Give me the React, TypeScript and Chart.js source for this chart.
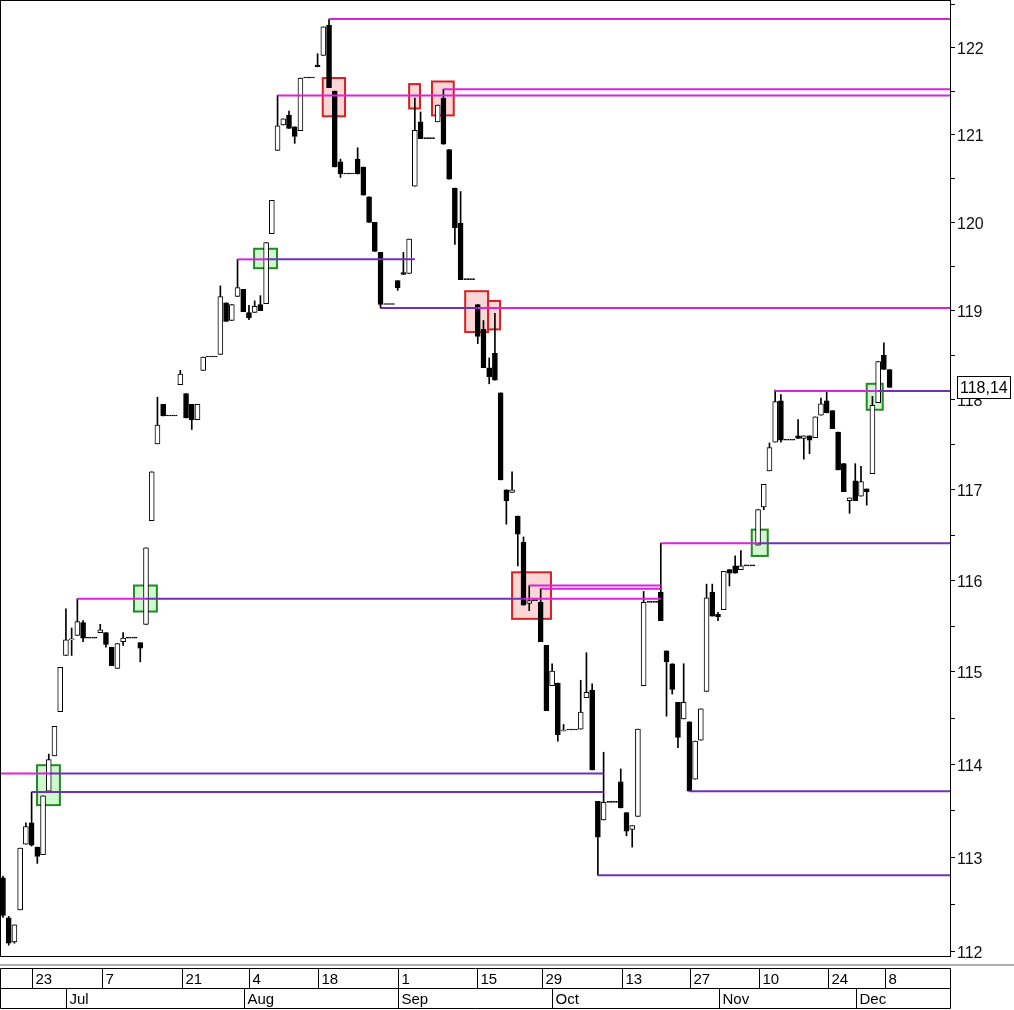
import React, { useEffect, useRef } from 'react';
import { Chart, registerables } from 'chart.js';

Chart.register(...registerables);

// ---- Daily sessions (one slot per session) ----
const OPEN = [
  112.78, 112.355, 112.10, 112.44, 113.14, 113.37, 113.11, 113.03, 113.71, 114.09,
  114.57, 115.18, 115.35, 115.40, 115.54, 115.37, 115.37, 115.43, 115.43, 115.27,
  115.04, 115.33, 115.37, 115.37, 115.32, 115.52, 116.66, 117.51, 117.95, 117.82,
  117.82, 118.17, 118.07, 117.95, 117.78, 118.33, 118.48, 118.48, 118.51, 119.09,
  118.89, 119.16, 119.24, 118.98, 118.98, 119.07, 119.08, 119.87, 120.82, 121.11,
  121.225, 121.09, 121.045, 121.65, 121.65, 121.80, 121.91, 122.26, 121.50, 120.69,
  120.55, 120.55, 120.72, 120.63, 120.29, 120.00, 119.66, 119.07, 119.07, 119.34,
  119.43, 119.42, 120.41, 121.146, 120.955, 120.955, 121.146, 121.42, 120.83, 120.39,
  119.99, 119.35, 119.35, 119.07, 118.79, 118.36, 118.52, 118.08, 117.00, 116.97,
  116.71, 116.42, 115.75, 115.78, 115.76, 115.29, 114.85, 114.88, 114.36, 114.37,
  114.37, 114.38, 114.72, 114.80, 113.60, 113.40, 113.59, 113.59, 113.81, 113.48,
  113.30, 113.44, 114.85, 115.76, 115.76, 115.87, 115.23, 115.09, 114.67, 114.49,
  114.46, 113.84, 114.26, 114.79, 115.87, 115.63, 115.68, 116.12, 116.16, 116.12,
  116.16, 116.16, 116.39, 116.81, 117.21, 117.53, 117.99, 117.55, 117.55, 117.60,
  117.57, 117.60, 117.58, 117.83, 117.99, 117.88, 117.64, 117.29, 116.88, 117.10,
  116.93, 117.01, 117.18, 117.97, 118.50, 118.34,
];
const CLOSE = [
  112.38, 112.086, 112.28, 113.10, 113.33, 113.13, 113.01, 113.66, 114.05, 114.41,
  115.05, 115.35, 115.36, 115.55, 115.37, 115.37, 115.37, 115.46, 115.30, 115.07,
  115.31, 115.37, 115.37, 115.37, 115.26, 116.36, 117.20, 117.72, 117.82, 117.82,
  117.82, 118.29, 117.80, 117.78, 117.95, 118.48, 118.48, 118.48, 119.16, 118.88,
  119.07, 119.26, 118.99, 118.92, 119.05, 119.00, 119.77, 120.25, 121.10, 121.18,
  121.07, 120.98, 121.65, 121.65, 121.65, 121.78, 122.24, 121.54, 120.63, 120.55,
  120.55, 120.55, 120.55, 120.31, 120.00, 119.67, 119.07, 119.07, 119.07, 119.26,
  119.41, 119.81, 121.05, 120.955, 120.955, 120.955, 121.34, 120.89, 120.49, 119.94,
  119.35, 119.35, 119.35, 118.71, 118.36, 118.26, 118.22, 117.11, 116.88, 117.00,
  116.51, 115.73, 115.78, 115.78, 115.33, 114.58, 115.01, 114.32, 114.37, 114.37,
  114.37, 114.565, 114.78, 113.94, 113.215, 113.59, 113.59, 113.59, 113.53, 113.28,
  113.34, 114.38, 115.76, 115.76, 115.76, 115.56, 115.11, 114.81, 114.29, 114.67,
  113.71, 114.25, 114.60, 115.81, 115.61, 115.60, 116.10, 116.08, 116.08, 116.16,
  116.16, 116.16, 116.78, 117.06, 117.47, 117.98, 117.55, 117.55, 117.55, 117.57,
  117.60, 117.55, 117.81, 117.955, 117.855, 117.68, 117.22, 116.98, 116.91, 116.88,
  117.09, 116.98, 117.94, 118.43, 118.34, 118.14,
];
// null = no wick beyond the body
const HIGH = [
  112.80, 112.37, null, null, 113.37, 113.70, null, null, 114.11, null,
  null, 115.69, 115.48, 115.80, 115.56, null, null, 115.52, null, null,
  null, 115.43, null, null, null, null, null, 118.03, null, null,
  null, 118.33, null, null, null, null, null, null, 119.28, null,
  null, 119.58, null, 119.06, 119.11, 119.17, null, null, 121.45, null,
  121.27, null, null, null, null, 121.93, null, 122.33, null, 120.72,
  null, null, 120.85, null, null, null, null, null, null, null,
  119.66, null, 121.42, 121.26, null, null, null, 121.52, null, null,
  120.35, null, null, null, 118.89, 118.47, 118.97, null, null, 117.20,
  null, 116.48, 115.945, null, 115.91, null, 115.09, null, 114.43, null,
  null, 114.91, 115.21, 114.87, null, 114.13, null, null, 113.95, null,
  null, null, 115.88, null, null, 116.41, null, null, null, 115.09,
  null, null, null, 115.96, 115.96, 115.65, null, null, 116.27, 116.33,
  null, null, null, null, 117.52, 118.11, 118.06, null, null, 117.78,
  null, null, null, 118.02, 118.09, null, null, null, null, 117.29,
  117.26, null, 118.04, null, 118.64, null,
];
const LOW = [
  112.36, 112.065, 112.086, null, null, 113.12, 112.935, null, null, null,
  null, null, 115.18, null, 115.33, null, null, null, 115.27, null,
  null, 115.29, null, null, 115.11, null, null, null, null, null,
  null, null, null, 117.67, null, null, null, null, null, null,
  null, null, null, 118.90, null, null, null, null, null, null,
  null, 120.90, null, null, null, null, null, null, null, 120.51,
  null, null, null, null, null, null, 119.03, null, null, 119.23,
  null, null, null, null, null, null, null, null, null, 119.75,
  null, null, null, 118.63, null, 118.18, null, null, 116.62, null,
  116.16, null, 115.67, null, null, null, null, 114.25, null, null,
  null, null, null, null, 112.81, null, null, null, null, 113.23,
  113.11, null, null, null, null, null, 114.52, 114.76, 114.18, null,
  null, null, null, null, null, 115.56, null, 115.94, null, null,
  null, null, null, 116.78, null, null, 117.53, null, null, null,
  117.34, 117.40, null, null, null, null, null, null, 116.74, null,
  null, 116.83, null, null, null, null,
];

// ---- Time axis (session slots) ----
const DAY_TICKS = [5.12, 17.26, 31.24, 43.06, 55.12, 69.1, 82.9, 94.2, 108.2, 120.1, 132.2, 144.3, 154.2];
const DAY_LABELS = ['23', '7', '21', '4', '18', '1', '15', '29', '13', '27', '10', '24', '8'];
const MONTH_TICKS = [11.1, 42.1, 69.1, 96.0, 125.1, 149.1];
const MONTH_LABELS = ['Jul', 'Aug', 'Sep', 'Oct', 'Nov', 'Dec'];

// ---- Price axis ----
const PRICE_TICKS = [112, 112.5, 113, 113.5, 114, 114.5, 115, 115.5, 116, 116.5, 117, 117.5, 118, 118.5, 119, 119.5, 120, 120.5, 121, 121.5, 122, 122.5];

// ---- Support / resistance levels: role R = resistance, S = support; null = chart edge ----
const LEVEL_ROLE = ['R', 'R', 'R', 'R', 'S', 'S', 'R', 'R', 'S', 'R', 'S', 'R', 'R', 'R', 'S', 'R', 'R', 'S', 'S', 'S', 'S'];
const LEVEL_PRICE = [122.33, 121.52, 121.45, 119.58, 119.58, 119.03, 119.03, 118.10, 118.10, 116.41, 116.41, 115.945, 115.91, 115.80, 115.80, 115.80, 113.90, 113.90, 113.70, 113.71, 112.81];
const LEVEL_FROM = [57, 77, 48, 41, 46, 66, 83, 135, 153, 115, 132, 92, 94, 13, 25, 91, null, 8, 5, 120, 104];
const LEVEL_TO = [null, null, null, 46, 72, 83, null, 153, null, 132, null, 115, 115, 25, 91, 115, 8, 105, 105, null, null];

// ---- Signal boxes: up = breakout above, down = breakdown ----
const BOX_KIND = ['up', 'up', 'up', 'down', 'down', 'down', 'down', 'down', 'down', 'up', 'up'];
const BOX_FROM = [5.95, 22.9, 43.9, 55.9, 71.0, 75.0, 80.8, 84.8, 89.0, 130.9, 151.0];
const BOX_TO = [9.95, 26.9, 47.9, 59.8, 72.9, 78.8, 84.8, 86.9, 95.8, 133.7, 153.8];
const BOX_LOW = [113.56, 115.66, 119.48, 121.21, 121.30, 121.22, 118.76, 118.79, 115.58, 116.27, 117.89];
const BOX_HIGH = [113.99, 115.945, 119.70, 121.65, 121.58, 121.61, 119.22, 119.11, 116.09, 116.56, 118.18];

const X_MIN = -0.35;
const X_MAX = 165.56;
const FONT = '"Liberation Sans", Arial, sans-serif';
const MAGENTA = '#dc22dc';
const PURPLE = '#7030bc';

const boxPlugin = {
  id: 'signalBoxes',
  beforeDatasetsDraw(chart: any) {
    const { ctx, scales } = chart;
    const xs = scales.x;
    const ys = scales.y;
    ctx.save();
    for (let i = 0; i < BOX_KIND.length; i++) {
      const x1 = xs.getPixelForValue(BOX_FROM[i]);
      const x2 = xs.getPixelForValue(BOX_TO[i]);
      const y1 = ys.getPixelForValue(BOX_HIGH[i]);
      const y2 = ys.getPixelForValue(BOX_LOW[i]);
      const up = BOX_KIND[i] === 'up';
      ctx.fillStyle = up ? 'rgba(190,245,190,0.75)' : 'rgba(250,200,200,0.75)';
      ctx.fillRect(x1, y1, x2 - x1, y2 - y1);
      ctx.lineWidth = 2;
      ctx.strokeStyle = up ? '#238a23' : '#d42222';
      ctx.strokeRect(x1, y1, x2 - x1, y2 - y1);
    }
    ctx.restore();
  },
};

const framePlugin = {
  id: 'frameAndDates',
  afterDraw(chart: any) {
    const { ctx, chartArea: a, scales } = chart;
    const xs = scales.x;
    ctx.save();
    ctx.strokeStyle = '#000';
    ctx.lineWidth = 1;
    ctx.strokeRect(a.left - 0.5, a.top - 0.5, a.right - a.left + 1, a.bottom - a.top + 1);

    // separator strip
    ctx.fillStyle = '#b0b0b0';
    ctx.fillRect(0, 964, chart.width, 2);

    // date panel
    const top = 968.5, mid = 988.5, bot = 1008.5, right = a.right + 0.5;
    ctx.strokeStyle = '#000';
    ctx.beginPath();
    ctx.moveTo(0.5, top); ctx.lineTo(right, top); ctx.lineTo(right, bot); ctx.lineTo(0.5, bot); ctx.closePath();
    ctx.moveTo(0.5, mid); ctx.lineTo(right, mid);
    ctx.stroke();
    ctx.font = '15px ' + FONT;
    ctx.fillStyle = '#000';
    ctx.textBaseline = 'middle';
    ctx.textAlign = 'left';
    DAY_TICKS.forEach((v, i) => {
      const x = Math.round(xs.getPixelForValue(v)) + 0.5;
      ctx.beginPath(); ctx.moveTo(x, top); ctx.lineTo(x, mid); ctx.stroke();
      ctx.fillText(DAY_LABELS[i], x + 3, (top + mid) / 2 + 1);
    });
    MONTH_TICKS.forEach((v, i) => {
      const x = Math.round(xs.getPixelForValue(v)) + 0.5;
      ctx.beginPath(); ctx.moveTo(x, mid); ctx.lineTo(x, bot); ctx.stroke();
      ctx.fillText(MONTH_LABELS[i], x + 3, (mid + bot) / 2 + 1);
    });

    // last price marker
    const last = CLOSE[CLOSE.length - 1];
    const y = scales.y.getPixelForValue(last);
    ctx.fillStyle = '#fff';
    ctx.fillRect(957, y - 11, 54, 22);
    ctx.strokeRect(957.5, Math.round(y - 11) + 0.5, 53, 22);
    ctx.fillStyle = '#000';
    ctx.font = '16px ' + FONT;
    ctx.fillText(last.toFixed(2).replace('.', ','), 960, y + 1);
    ctx.restore();
  },
};

export default function App() {
  const ref = useRef<HTMLCanvasElement>(null);

  useEffect(() => {
    document.body.style.margin = '0';
    const canvas = ref.current;
    if (!canvas) return;

    const wicks: any[] = [];
    const bodies: any[] = [];
    const fills: string[] = [];
    for (let i = 0; i < OPEN.length; i++) {
      const o = OPEN[i];
      const c = CLOSE[i];
      const hi = HIGH[i] ?? Math.max(o, c);
      const lo = LOW[i] ?? Math.min(o, c);
      if (hi > lo) wicks.push({ x: i, y: [lo, hi] });
      bodies.push({ x: i, y: [Math.min(o, c), Math.max(o, c)] });
      fills.push(c > o ? '#ffffff' : '#000000');
    }

    const levelSets = LEVEL_PRICE.map((p, i) => ({
      type: 'line' as const,
      data: [
        { x: LEVEL_FROM[i] ?? X_MIN, y: p },
        { x: LEVEL_TO[i] ?? X_MAX, y: p },
      ],
      borderColor: LEVEL_ROLE[i] === 'R' ? MAGENTA : PURPLE,
      borderWidth: 2,
      pointRadius: 0,
      fill: false,
      order: 0,
    }));

    const chart = new Chart(canvas, {
      type: 'bar',
      data: {
        datasets: [
          ...levelSets,
          {
            type: 'bar',
            data: bodies,
            backgroundColor: fills,
            borderColor: '#000',
            borderWidth: 1,
            borderSkipped: false,
            barThickness: 5,
            minBarLength: 1,
            grouped: false,
            order: 1,
          } as any,
          {
            type: 'bar',
            data: wicks,
            backgroundColor: '#000',
            borderWidth: 0,
            barThickness: 1,
            grouped: false,
            order: 2,
          } as any,
        ],
      },
      options: {
        responsive: false,
        animation: false,
        devicePixelRatio: 1,
        layout: { autoPadding: false, padding: { left: 1, top: 1, right: 0, bottom: 54 } },
        plugins: { legend: { display: false }, tooltip: { enabled: false } },
        scales: {
          x: { type: 'linear', min: X_MIN, max: X_MAX, offset: false, display: false },
          y: {
            type: 'logarithmic',
            position: 'right',
            min: 111.95,
            max: 122.54,
            afterBuildTicks: (scale: any) => {
              scale.ticks = PRICE_TICKS.map((v) => ({ value: v }));
            },
            afterFit: (scale: any) => {
              scale.width = 64;
              scale.paddingTop = 0;
              scale.paddingBottom = 0;
            },
            grid: { drawOnChartArea: false, drawTicks: true, tickLength: 5, color: '#000' },
            border: { display: true, color: '#000' },
            ticks: {
              autoSkip: false,
              padding: 2,
              labelOffset: 2,
              color: '#111',
              font: { family: FONT, size: 16 },
              callback: (v: any) => (Number.isInteger(Number(v)) ? String(v) : ''),
            },
          },
        },
      },
      plugins: [boxPlugin, framePlugin],
    } as any);

    return () => chart.destroy();
  }, []);

  return (
    <div style={{ width: 1014, height: 1010 }}>
      <canvas ref={ref} width={1014} height={1010} style={{ display: 'block' }} />
    </div>
  );
}
